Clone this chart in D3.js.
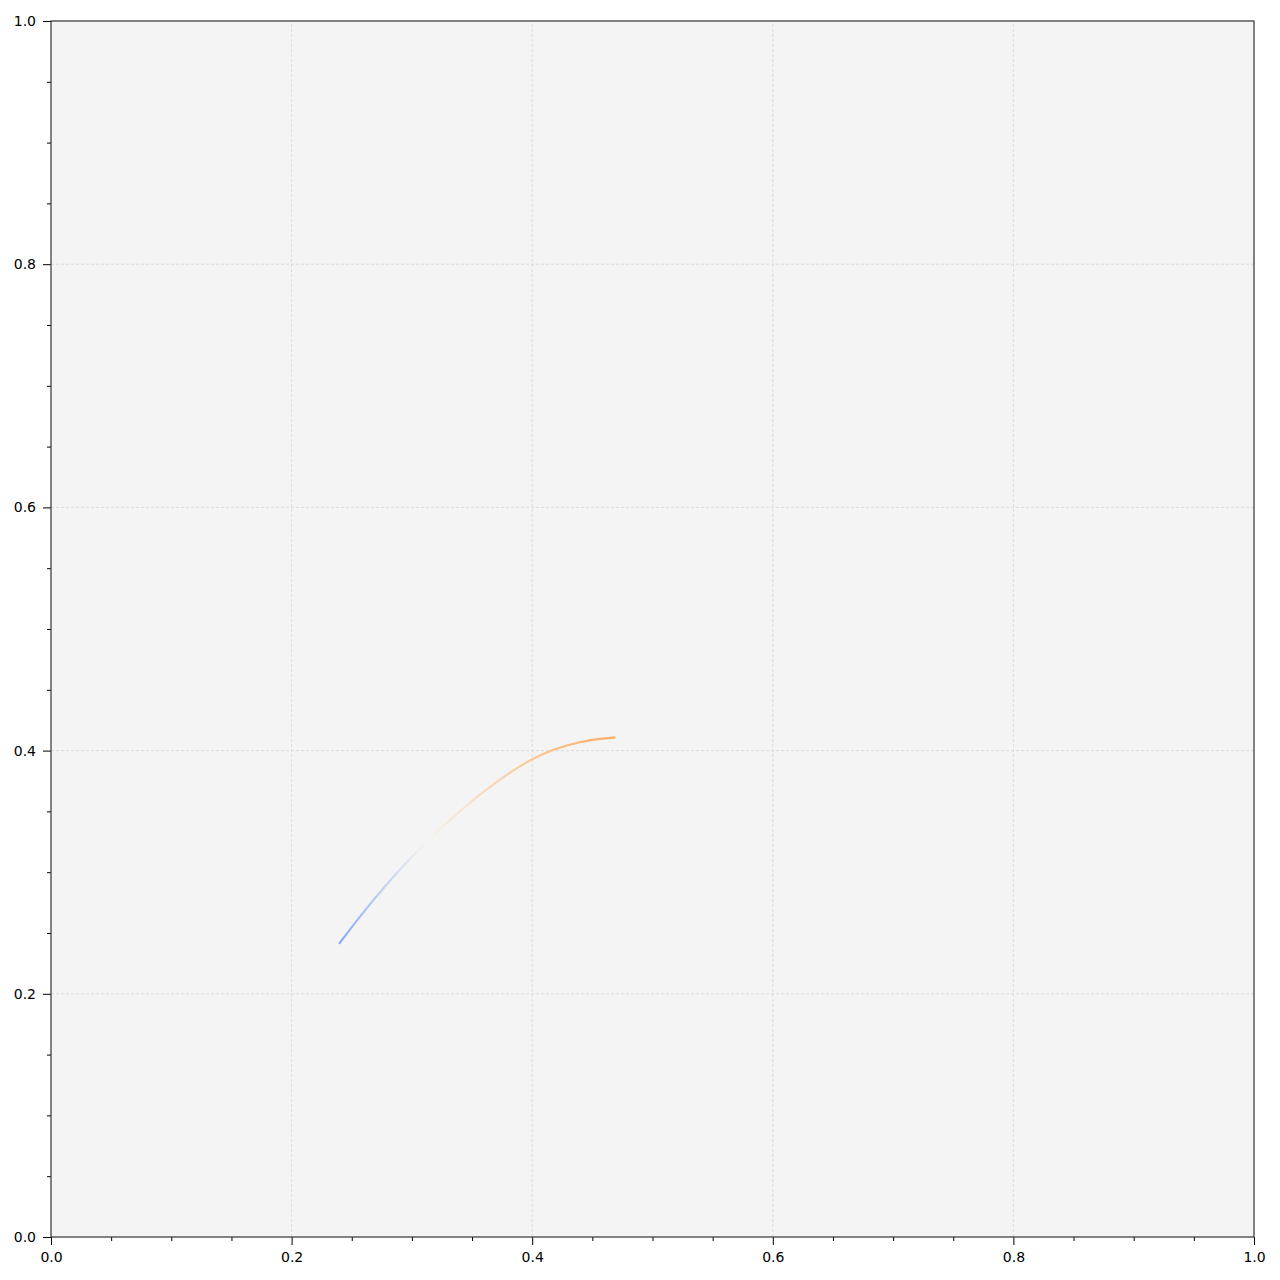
<!DOCTYPE html>
<html>
<head>
<meta charset="utf-8">
<script src="https://cdn.jsdelivr.net/npm/d3@7"></script>
<style>
  body { margin: 0; background: #fff; }
  svg text { font-family: "DejaVu Sans", sans-serif; }
</style>
</head>
<body>
<script>
// curve (x, y in data units)
let curveX = [0.2394, 0.2527, 0.2635, 0.2776, 0.2918, 0.3051, 0.3192, 0.3333, 0.3466, 0.3566,
              0.3732, 0.3899, 0.3998, 0.4123, 0.4231, 0.4397, 0.4564, 0.4692]
let curveY = [0.2410, 0.2583, 0.2718, 0.2884, 0.3041, 0.3179, 0.3316, 0.3445, 0.3558, 0.3638,
              0.3763, 0.3873, 0.3929, 0.3987, 0.4027, 0.4071, 0.4099, 0.4109]
let majorTicks = [0, 0.2, 0.4, 0.6, 0.8, 1.0]
let minorTicks = [0.05, 0.1, 0.15, 0.25, 0.3, 0.35, 0.45, 0.5, 0.55, 0.65, 0.7, 0.75, 0.85, 0.9, 0.95]
let gradStops = [0, 0.38, 1]
let gradColors = ['#88abf6', '#f7f4ef', '#fbad64']

let width = 1280, height = 1280
let margin = {left: 51, right: 26, top: 21, bottom: 43}

let svg = d3.select('body').append('svg')
  .attr('width', width)
  .attr('height', height)

let x = d3.scaleLinear().domain([0, 1]).range([margin.left, width - margin.right])
let y = d3.scaleLinear().domain([0, 1]).range([height - margin.bottom, margin.top])

// plot background
svg.append('rect')
  .attr('x', x(0)).attr('y', y(1))
  .attr('width', x(1) - x(0)).attr('height', y(0) - y(1))
  .attr('fill', '#f4f4f4')

// grid
let grid = svg.append('g').attr('id', 'grid')
grid.selectAll('line.gx').data(majorTicks.slice(1, -1)).join('line')
  .attr('x1', d => x(d)).attr('x2', d => x(d))
  .attr('y1', y(0)).attr('y2', y(1))
grid.selectAll('line.gy').data(majorTicks.slice(1, -1)).join('line')
  .attr('y1', d => y(d)).attr('y2', d => y(d))
  .attr('x1', x(0)).attr('x2', x(1))
grid.selectAll('line')
  .attr('stroke', '#d6d6d6')
  .attr('stroke-width', 0.8)
  .attr('stroke-dasharray', '3,2')

// curve with gradient
let pts = curveX.map((d, i) => [d, curveY[i]])
let n = pts.length - 1
let defs = svg.append('defs')
let grad = defs.append('linearGradient')
  .attr('id', 'curve-gradient')
  .attr('gradientUnits', 'userSpaceOnUse')
  .attr('x1', x(pts[0][0])).attr('y1', y(pts[0][1]))
  .attr('x2', x(pts[n][0])).attr('y2', y(pts[n][1]))
grad.selectAll('stop').data(gradStops).join('stop')
  .attr('offset', d => d)
  .attr('stop-color', (d, i) => gradColors[i])

let line = d3.line()
  .x(d => x(d[0]))
  .y(d => y(d[1]))
  .curve(d3.curveBasis)

svg.append('path')
  .datum(pts)
  .attr('d', line)
  .attr('fill', 'none')
  .attr('stroke', 'url(#curve-gradient)')
  .attr('stroke-width', 2.2)
  .attr('stroke-linecap', 'butt')

// axes
let fmt = d3.format('.1f')
svg.append('g')
  .attr('transform', `translate(0, ${y(0)})`)
  .call(d3.axisBottom(x).tickValues(majorTicks).tickFormat(fmt).tickSize(8).tickPadding(7))
svg.append('g')
  .attr('transform', `translate(0, ${y(0)})`)
  .call(d3.axisBottom(x).tickValues(minorTicks).tickFormat('').tickSize(4))
svg.append('g')
  .attr('transform', `translate(${x(0)}, 0)`)
  .call(d3.axisLeft(y).tickValues(majorTicks).tickFormat(fmt).tickSize(8).tickPadding(7))
svg.append('g')
  .attr('transform', `translate(${x(0)}, 0)`)
  .call(d3.axisLeft(y).tickValues(minorTicks).tickFormat('').tickSize(4))

svg.selectAll('.domain').remove()
svg.selectAll('.tick line').attr('stroke', '#000').attr('stroke-width', 1)
svg.selectAll('.tick text')
  .attr('fill', '#000')
  .style('font-size', '14px')
  .style('font-family', '"DejaVu Sans", sans-serif')

// frame
svg.append('rect')
  .attr('x', x(0)).attr('y', y(1))
  .attr('width', x(1) - x(0)).attr('height', y(0) - y(1))
  .attr('fill', 'none')
  .attr('stroke', '#333')
  .attr('stroke-width', 1.2)
</script>
</body>
</html>
